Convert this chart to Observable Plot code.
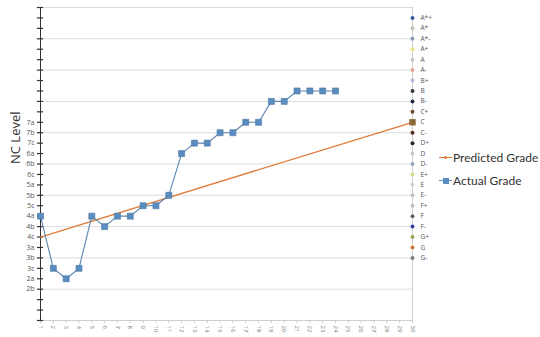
<!DOCTYPE html>
<html>
<head>
<meta charset="utf-8">
<script src="https://cdn.jsdelivr.net/npm/d3@7"></script>
<script src="https://cdn.jsdelivr.net/npm/@observablehq/plot@0.6"></script>
<style>
  html, body { margin: 0; padding: 0; background: #fff; }
  #wrap { position: relative; width: 540px; height: 337px; font-family: Lato, "Open Sans", "Liberation Sans", sans-serif; }
  #legend { position: absolute; left: 439px; top: 146px; font-size: 12px; color: #333; white-space: nowrap; font-family: Lato, "Liberation Sans", sans-serif; }
  .li { display: flex; align-items: center; height: 23px; }
  .sw { position: relative; width: 13px; height: 10px; margin-right: 1px; }
  .sw .ln { position: absolute; left: 0; top: 4.5px; width: 13px; height: 1.3px; }
  .sw .mk { position: absolute; }
</style>
</head>
<body>
<div id="wrap">
  <div id="chart"></div>
  <div id="legend"></div>
</div>
<script>
// ---- data ----
const sessions = [1,2,3,4,5,6,7,8,9,10,11,12,13,14,15,16,17,18,19,20,21,22,23,24,25,26,27,28,29,30];
const actualSessions = [1,2,3,4,5,6,7,8,9,10,11,12,13,14,15,16,17,18,19,20,21,22,23,24];
const actualLevels = [10,5,4,5,10,9,10,10,11,11,12,16,17,17,18,18,19,19,21,21,22,22,22,22];
const predictedSessions = [1,30];
const predictedLevels = [8,19];
const ncLabels = ["2b","2a","3c","3b","3a","4c","4b","4a","5c","5b","5a","6c","6b","6a","7c","7b","7a"];
const ncValues = [3,4,5,6,7,8,9,10,11,12,13,14,15,16,17,18,19];
const yTickValues = [0,1,2,3,4,5,6,7,8,9,10,11,12,13,14,15,16,17,18,19,20,21,22,23,24,25,26,27,28,29,30];
const gridValues = [0,3,6,9,12,15,18,21,24,27,30];
const grades = ["A*+","A*","A*-","A+","A","A-","B+","B","B-","C+","C","C-","D+","D","D-","E+","E","E-","F+","F","F-","G+","G","G-"];
const gradeLevels = [29,28,27,26,25,24,23,22,21,20,19,18,17,16,15,14,13,12,11,10,9,8,7,6];
const gradeColors = ["#3b5a9a","#b8c4b0","#8a9ab0","#e6e68a","#c8c8c8","#e8a898","#b8b8d8","#3a3a3a","#1e2a48","#6a5030","#8a6a3a","#5a2a1a","#2a2a2a","#c8c8c8","#98a8b8","#d0e090","#d0d0d0","#c0c0c0","#b8c0c8","#606860","#3840a0","#98a858","#c87838","#788088"];
const seriesNames = ["Predicted Grade","Actual Grade"];
const seriesColors = ["#e07b39","#5a8cbf"];

const actual = actualSessions.map((s,i) => ({s, v: actualLevels[i]}));
const predicted = predictedSessions.map((s,i) => ({s, v: predictedLevels[i]}));
const gradeData = grades.map((g,i) => ({g, v: gradeLevels[i], c: gradeColors[i]}));
const ncMap = new Map(ncValues.map((v,i) => [v, ncLabels[i]]));

const chart = Plot.plot({
  width: 540, height: 337,
  marginLeft: 40, marginRight: 128, marginTop: 7, marginBottom: 17,
  style: {fontFamily: "'Open Sans', 'Liberation Sans', sans-serif", background: "#fff"},
  x: {type: "linear", domain: [1,30], axis: null},
  y: {type: "linear", domain: [0,30], axis: null},
  marks: [
    Plot.ruleY(gridValues, {y: d => d, stroke: "#dcdcdc", strokeWidth: 1}),
    Plot.ruleX([30], {x: d => d, stroke: "#cfcfcf", strokeWidth: 1}),
    Plot.ruleY([0], {y: d => d, stroke: "#cfcfcf", strokeWidth: 1}),
    // x axis ticks and rotated labels
    Plot.axisX({ticks: sessions, tickSize: 3, tickRotate: 90, tickPadding: 2, fontSize: 6, color: "#777", tickFormat: d => d, stroke: "#ccc", label: null}),
    // left axis line with crossing ticks
    Plot.ruleX([1], {x: d => d, stroke: "#333", strokeWidth: 1}),
    Plot.ruleY(yTickValues, {y: d => d, x1: 0.76, x2: 1.24, stroke: "#333", strokeWidth: 1.2}),
    Plot.axisY({ticks: ncValues, tickSize: 0, tickPadding: 6, fontSize: 7, color: "#555",
      tickFormat: d => ncMap.get(d) ?? "", label: null}),
    Plot.text(["NC Level"], {frameAnchor: "left", dx: -25, rotate: -90, fontSize: 13, fill: "#333"}),
    // right grade markers
    Plot.dot(gradeData.filter(d => d.g !== "C"), {x: () => 30, y: "v", r: 2, fill: "c", stroke: "none"}),
    Plot.text(gradeData, {x: () => 30, y: "v", text: "g", dx: 8, textAnchor: "start", fontSize: 6.5, fill: "#555"}),
    // series
    Plot.line(predicted, {x: "s", y: "v", stroke: seriesColors[0], strokeWidth: 1.3}),
    Plot.dot(gradeData.filter(d => d.g === "C"), {x: () => 30, y: "v", r: 3.6, symbol: "square", fill: "c", stroke: "none"}),
    Plot.line(actual, {x: "s", y: "v", stroke: "#5b84ad", strokeWidth: 1.1}),
    Plot.dot(actual, {x: "s", y: "v", symbol: "square", r: 3.4, fill: seriesColors[1], stroke: "#4a79a8", strokeWidth: 0.6})
  ]
});
document.getElementById("chart").appendChild(chart);

// legend
const legend = document.getElementById("legend");
seriesNames.forEach((name, i) => {
  const li = document.createElement("div"); li.className = "li";
  const sw = document.createElement("div"); sw.className = "sw";
  const ln = document.createElement("div"); ln.className = "ln"; ln.style.background = seriesColors[i];
  const mk = document.createElement("div"); mk.className = "mk";
  if (i === 0) { mk.style.cssText = `left:5px;top:3.5px;width:3px;height:3px;border-radius:50%;background:${seriesColors[i]}`; }
  else { mk.style.cssText = `left:3.5px;top:2px;width:6px;height:6px;background:${seriesColors[i]}`; }
  sw.appendChild(ln); sw.appendChild(mk);
  const tx = document.createElement("span"); tx.textContent = name;
  li.appendChild(sw); li.appendChild(tx);
  legend.appendChild(li);
});
</script>
</body>
</html>
